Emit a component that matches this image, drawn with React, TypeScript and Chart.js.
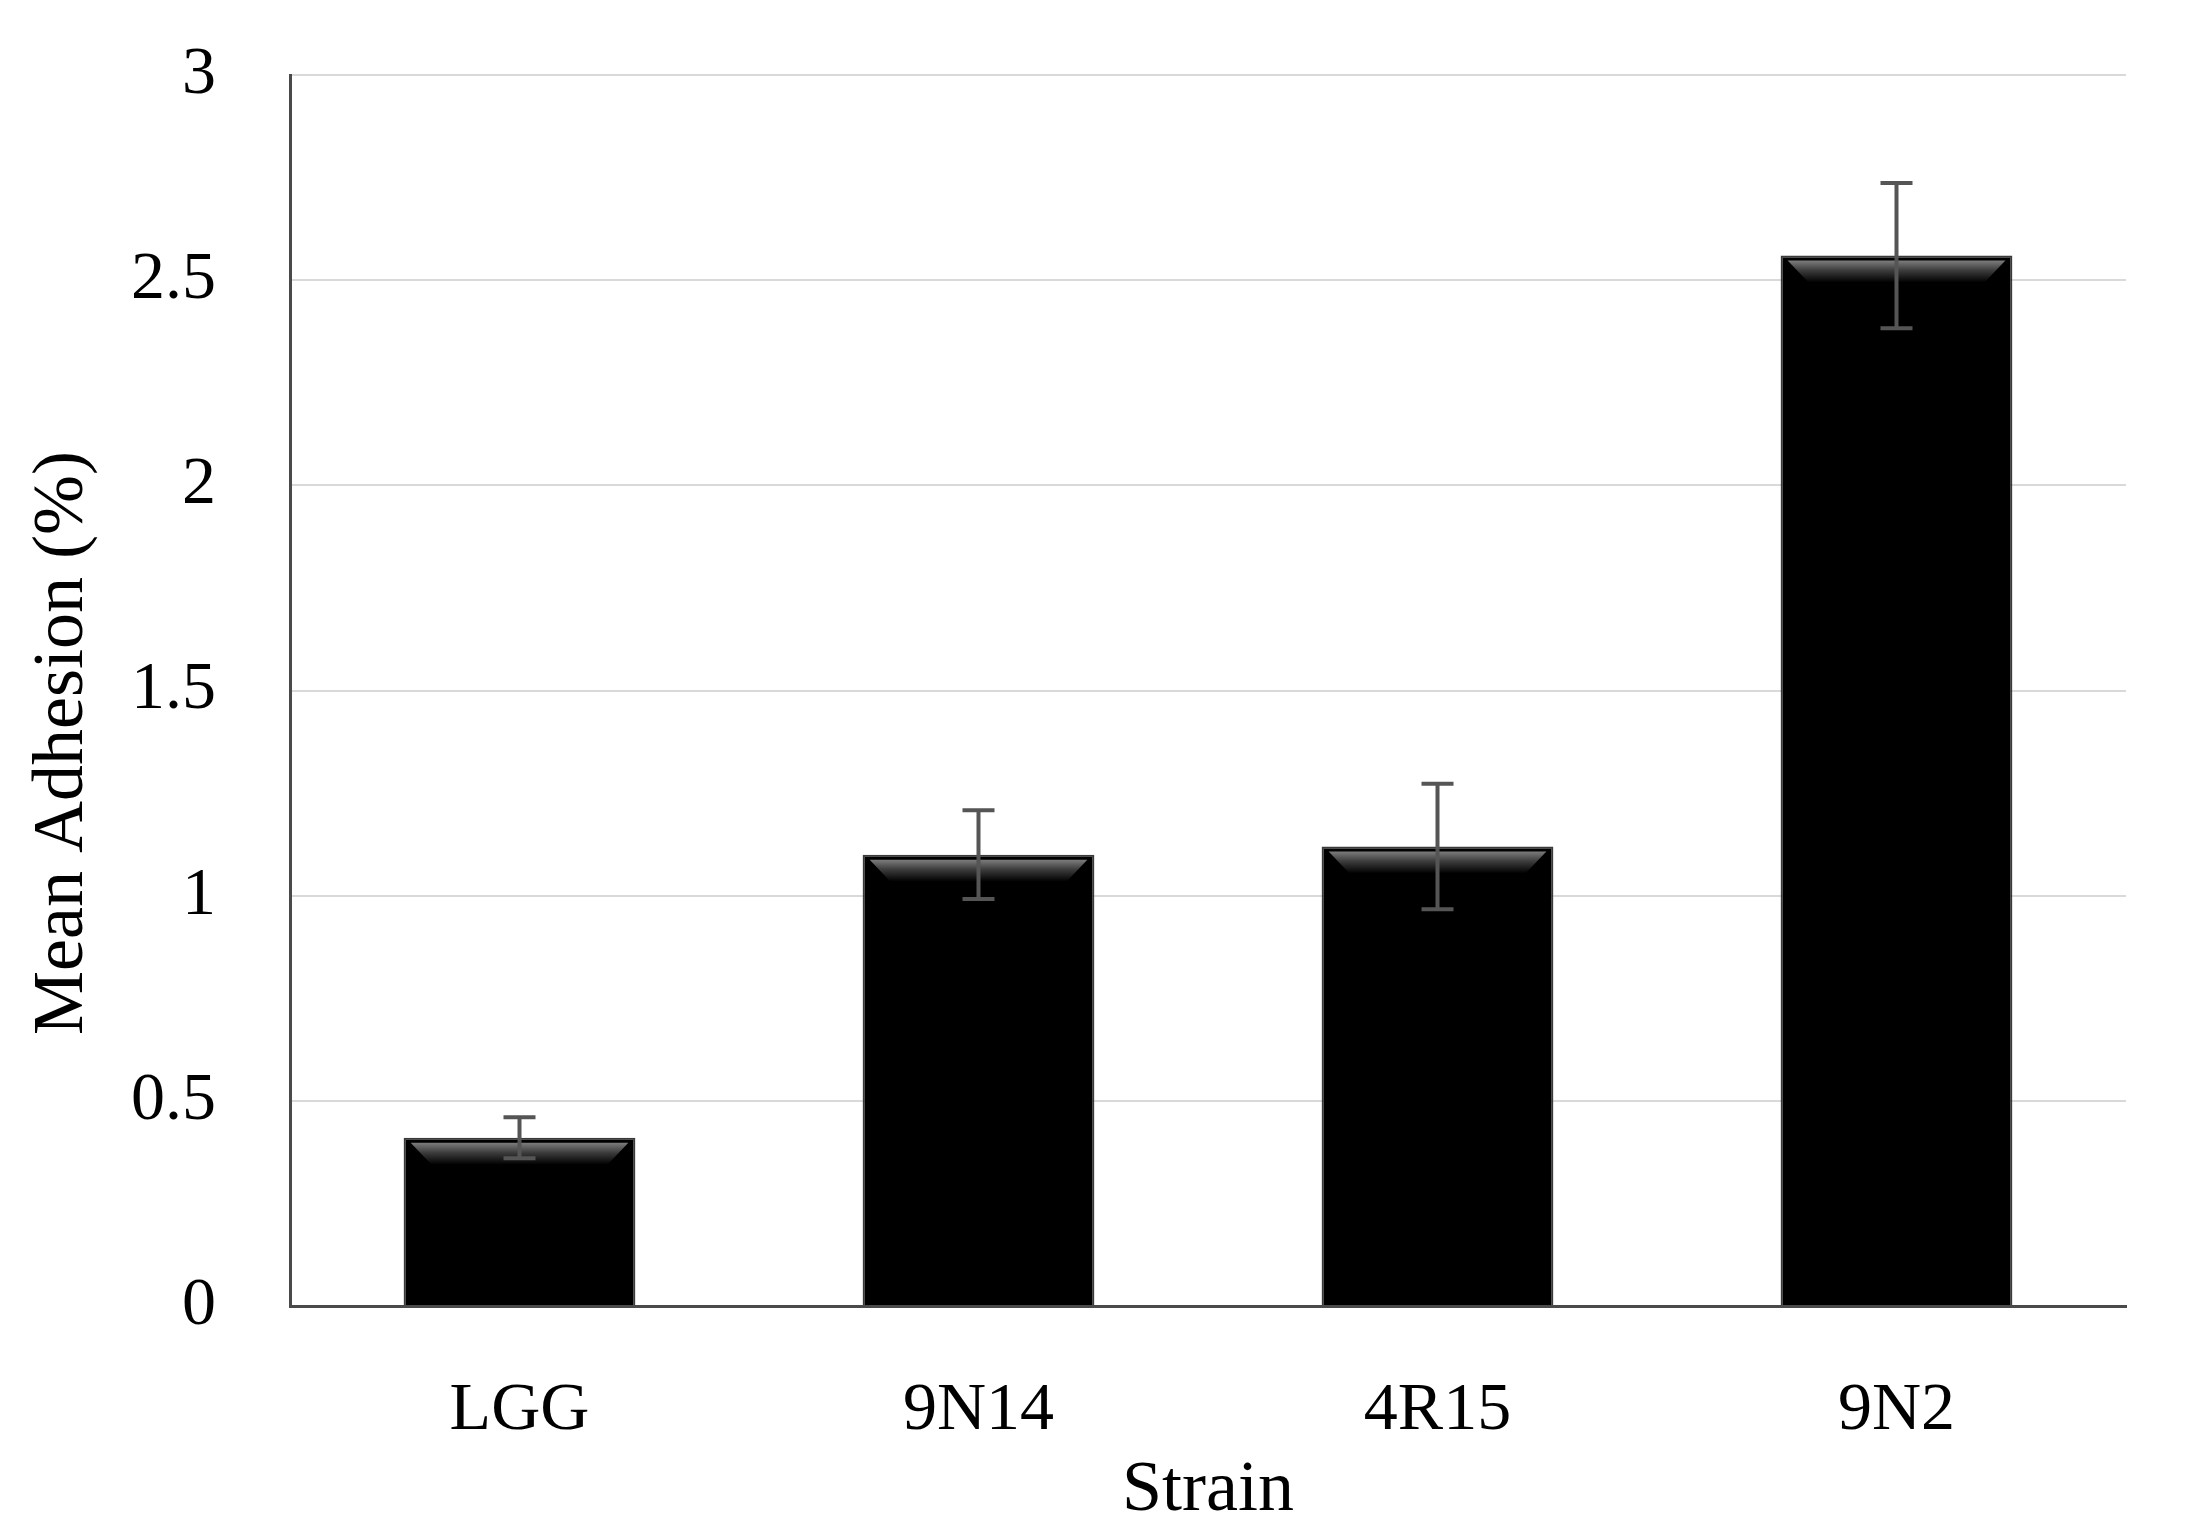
import React, { useEffect, useRef } from "react";
import { Chart, registerables } from "chart.js";

Chart.register(...registerables);

const categories = ["LGG", "9N14", "4R15", "9N2"];
const meanAdhesion = [0.41, 1.1, 1.12, 2.56];
const errorValues = [0.05, 0.108, 0.153, 0.177];
const yTickLabels = ["0", "0.5", "1", "1.5", "2", "2.5", "3"];
const yTitle = "Mean Adhesion (%)";
const xTitle = "Strain";

const FONT = "'Liberation Serif', 'Times New Roman', serif";

const bevelPlugin = {
  id: "bevel",
  afterDatasetsDraw(chart: any) {
    const ctx = chart.ctx;
    const meta = chart.getDatasetMeta(0);
    const yScale = chart.scales.y;
    ctx.save();
    meta.data.forEach((bar: any) => {
      const { x, y, width } = bar.getProps(["x", "y", "width"], true);
      const left = x - width / 2;
      const right = x + width / 2;
      const t1 = y + 5;
      const t2 = y + 27;
      const g = ctx.createLinearGradient(0, t1, 0, t2);
      g.addColorStop(0, "rgba(125,125,125,1)");
      g.addColorStop(0.45, "rgba(60,60,60,1)");
      g.addColorStop(1, "rgba(0,0,0,1)");
      ctx.fillStyle = g;
      ctx.beginPath();
      ctx.moveTo(left + 7, t1);
      ctx.lineTo(right - 7, t1);
      ctx.lineTo(right - 28, t2);
      ctx.lineTo(left + 28, t2);
      ctx.closePath();
      ctx.fill();
    });
    // error bars
    ctx.strokeStyle = "#555555";
    ctx.lineWidth = 4;
    meta.data.forEach((bar: any, i: number) => {
      const x = bar.x;
      const yTop = yScale.getPixelForValue(meanAdhesion[i] + errorValues[i]);
      const yBot = yScale.getPixelForValue(meanAdhesion[i] - errorValues[i]);
      const cap = 16;
      ctx.beginPath();
      ctx.moveTo(x, yTop);
      ctx.lineTo(x, yBot);
      ctx.moveTo(x - cap, yTop);
      ctx.lineTo(x + cap, yTop);
      ctx.moveTo(x - cap, yBot);
      ctx.lineTo(x + cap, yBot);
      ctx.stroke();
    });
    ctx.restore();
  },
};

const yTitlePlugin = {
  id: "yTitleCustom",
  afterDraw(chart: any) {
    const ctx = chart.ctx;
    ctx.save();
    ctx.translate(63, 743);
    ctx.rotate(-Math.PI / 2);
    ctx.fillStyle = "#000";
    ctx.font = `72px ${FONT}`;
    ctx.textAlign = "center";
    ctx.textBaseline = "middle";
    ctx.fillText(yTitle, 0, 0);
    ctx.restore();
  },
};

export default function App() {
  const canvasRef = useRef<HTMLCanvasElement | null>(null);

  useEffect(() => {
    if (!canvasRef.current) return;
    const chart = new Chart(canvasRef.current, {
      type: "bar",
      data: {
        labels: categories,
        datasets: [
          {
            data: meanAdhesion,
            backgroundColor: "#000000",
            borderColor: "#3a3a3a",
            borderWidth: 2,
            categoryPercentage: 1,
            barPercentage: 0.505,
          },
        ],
      },
      options: {
        responsive: false,
        animation: false,
        devicePixelRatio: 1,
        layout: { padding: { left: 0, right: 60, top: 75, bottom: 0 } },
        plugins: {
          legend: { display: false },
          tooltip: { enabled: false },
        },
        scales: {
          x: {
            grid: { display: false, drawTicks: false },
            border: { color: "#4a4a4a", width: 3 },
            ticks: {
              color: "#000",
              padding: 64,
              font: { family: FONT, size: 68 },
            },
            title: {
              display: true,
              text: xTitle,
              color: "#000",
              font: { family: FONT, size: 72 },
              padding: { top: 2, bottom: 0 },
            },
            afterFit: (scale: any) => {
              scale.height = 228;
            },
          },
          y: {
            min: 0,
            max: 3,
            grid: {
              color: "#d9d9d9",
              lineWidth: 2,
              drawTicks: true,
              tickLength: 74,
              tickColor: "rgba(0,0,0,0)",
            },
            border: { color: "#4a4a4a", width: 3 },
            ticks: {
              stepSize: 0.5,
              color: "#000",
              padding: 0,
              font: { family: FONT, size: 68 },
              callback: (_v: any, i: number) => yTickLabels[i],
            },
            afterFit: (scale: any) => {
              scale.width = 290;
            },
          },
        },
      },
      plugins: [bevelPlugin, yTitlePlugin],
    });
    return () => chart.destroy();
  }, []);

  return (
    <div style={{ position: "absolute", left: 0, top: 0, width: 2186, height: 1534, background: "#fff" }}>
      <canvas ref={canvasRef} width={2186} height={1534} style={{ display: "block" }} />
    </div>
  );
}
